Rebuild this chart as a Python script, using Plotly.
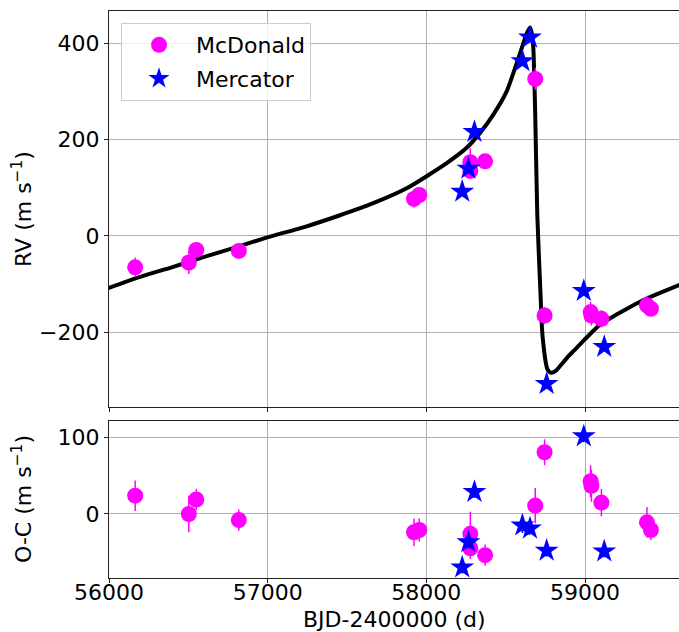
import plotly.graph_objects as go
from plotly.subplots import make_subplots

# McDonald data
mcd_t = [56165, 56503, 56550, 56818, 57922, 57955, 58277, 58277, 58370, 58686, 58745, 59035, 59040, 59103, 59390, 59415]
mcd_rv = [-65, -55, -29, -31, 77, 85, 153, 135, 155, 326, -165, -158, -165, -172, -144, -151]
mcd_oc = [24, 0, 19, -8, -24, -21, -26, -45, -54, 11, 81, 43, 37, 15, -11, -21]
mcd_err = [20, 24, 14, 14, 18, 15, 29, 14, 14, 23, 17, 21, 21, 18, 20, 13]

# Mercator data
mer_t = [58226, 58265, 58303, 58605, 58653, 58758, 58992, 59121]
mer_rv = [92, 140, 216, 363, 412, -307, -114, -230]
mer_oc = [-70, -37, 29, -15, -19, -48, 102, -49]
mer_err = [8, 8, 8, 10, 8, 8, 8, 8]

# Model curve
mod_t = [55990, 56185, 56395, 56605, 56815, 56997, 57235, 57456, 57665, 57876, 58002,
         58128, 58254, 58338, 58422, 58506, 58569, 58611, 58635, 58653, 58665, 58674,
         58680, 58686, 58699, 58716, 58730, 58743, 58752, 58762, 58775, 58789, 58805,
         58821, 58840, 58863, 58900, 58930, 58997, 59094, 59178, 59270, 59367, 59480, 59600]
mod_rv = [-109, -86, -65, -43, -22, -3, 19, 43, 68, 99, 124,
          151, 183, 214, 252, 300, 358, 400, 422, 433, 420, 391,
          330, 252, 44, -95, -199, -241, -262, -276, -282, -284, -282,
          -278, -271, -262, -248, -238, -215, -184, -167, -150, -133, -117, -101]

x_ticks = [56000, 57000, 58000, 59000]
x_ticktext = ["56000", "57000", "58000", "59000"]
rv_ticks = [-200, 0, 200, 400]
oc_ticks = [0, 100]

FONT = "DejaVu Sans"
FS = 22

fig = make_subplots(rows=2, cols=1, shared_xaxes=True, vertical_spacing=14 / 567,
                    row_heights=[396 / 553, 157 / 553])

fig.add_trace(go.Scatter(x=mod_t, y=mod_rv, mode="lines",
                         line=dict(color="black", width=4, shape="spline", smoothing=0.5),
                         showlegend=False, hoverinfo="skip"), row=1, col=1)
fig.add_trace(go.Scatter(x=mcd_t, y=mcd_rv, mode="markers", name="McDonald", legendgroup="a",
                         marker=dict(symbol="circle", size=16, color="magenta"),
                         error_y=dict(type="data", array=mcd_err, color="magenta", thickness=1.5, width=0)),
              row=1, col=1)
fig.add_trace(go.Scatter(x=mer_t, y=mer_rv, mode="markers", name="Mercator", legendgroup="b",
                         marker=dict(symbol="star", size=18, color="blue", line=dict(width=0)),
                         error_y=dict(type="data", array=mer_err, color="blue", thickness=1.5, width=0)),
              row=1, col=1)
fig.add_trace(go.Scatter(x=mcd_t, y=mcd_oc, mode="markers", showlegend=False,
                         marker=dict(symbol="circle", size=16, color="magenta"),
                         error_y=dict(type="data", array=mcd_err, color="magenta", thickness=1.5, width=0)),
              row=2, col=1)
fig.add_trace(go.Scatter(x=mer_t, y=mer_oc, mode="markers", showlegend=False,
                         marker=dict(symbol="star", size=18, color="blue", line=dict(width=0)),
                         error_y=dict(type="data", array=mer_err, color="blue", thickness=1.5, width=0)),
              row=2, col=1)

axis_common = dict(showline=True, linecolor="#222222", linewidth=1.2, mirror=True,
                   ticks="outside", ticklen=4, tickwidth=1.2, tickcolor="#222222",
                   showgrid=True, gridcolor="#b0b0b0", gridwidth=1, zeroline=False,
                   automargin=False,
                   tickfont=dict(family=FONT, size=FS, color="black"))

fig.update_xaxes(range=[56000, 59592], tickvals=x_ticks, ticktext=x_ticktext,
                 ticklabelstandoff=-10, **axis_common)
fig.update_xaxes(showticklabels=False, row=1, col=1)
fig.update_yaxes(**axis_common)
fig.update_yaxes(range=[-355, 467], tickvals=rv_ticks, row=1, col=1)
fig.update_yaxes(range=[-84, 122], tickvals=oc_ticks, row=2, col=1)

PW = 570.0
PH = 567.0
def px_x(p):
    return (p - 109) / PW
def px_y(p):
    return (578 - p) / PH

title_font = dict(family=FONT, size=FS, color="black")
fig.add_annotation(text="BJD-2400000 (d)", x=px_x(394), y=px_y(619), xref="paper", yref="paper",
                   xanchor="center", yanchor="middle", showarrow=False, font=title_font)
fig.add_annotation(text="RV (m s<sup>−1</sup>)", x=px_x(22), y=px_y(209), xref="paper", yref="paper",
                   xanchor="center", yanchor="middle", showarrow=False, textangle=-90, font=title_font)
fig.add_annotation(text="O-C (m s<sup>−1</sup>)", x=px_x(22), y=px_y(499), xref="paper", yref="paper",
                   xanchor="center", yanchor="middle", showarrow=False, textangle=-90, font=title_font)

fig.update_layout(
    width=679, height=632,
    margin=dict(l=109, r=0, t=11, b=54, autoexpand=False),
    plot_bgcolor="white", paper_bgcolor="white",
    font=dict(family=FONT, size=FS, color="black"),
    legend=dict(x=px_x(121), y=px_y(23), xanchor="left", yanchor="top",
                bgcolor="rgba(255,255,255,0.8)", bordercolor="#cccccc", borderwidth=1,
                font=dict(family=FONT, size=FS, color="black"), itemwidth=64,
                tracegroupgap=2),
)

fig.write_html("out.html", config={"displayModeBar": False},
               post_script="document.body.style.margin='0';document.body.style.padding='0';document.body.style.overflow='hidden';")
